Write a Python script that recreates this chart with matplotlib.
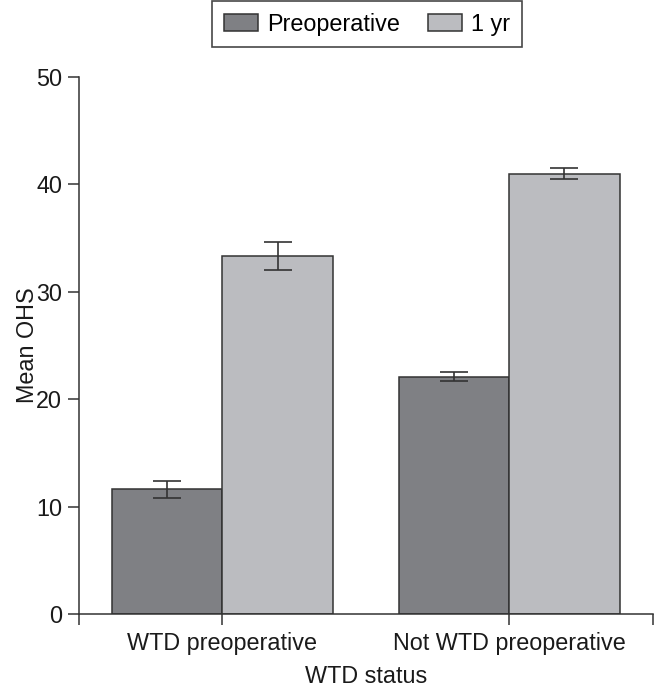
import numpy as np
import matplotlib
matplotlib.use("Agg")
import matplotlib.pyplot as plt

plt.rcParams['font.family'] = ['Liberation Sans', 'DejaVu Sans']

groups = ["WTD preoperative", "Not WTD preoperative"]
series = ["Preoperative", "1 yr"]
preop_mean = [11.6, 22.1]
preop_err = [0.8, 0.45]
yr1_mean = [33.3, 41.0]
yr1_err = [1.3, 0.5]
yticks = [0, 10, 20, 30, 40, 50]

colors = ["#7f8084", "#bbbcc0"]
edge = "#333333"
fs = 16.8

fig = plt.figure(figsize=(6.54, 6.91), dpi=100)
ax = fig.add_axes([0.1208, 0.1114, 0.877, 0.7772])

x = np.arange(len(groups))
w = 0.385
ekw = dict(ecolor=edge, elinewidth=1.2, capsize=10, capthick=1.2)
ax.bar(x - w / 2, preop_mean, w, yerr=preop_err, color=colors[0],
       edgecolor=edge, linewidth=1.1, label=series[0], error_kw=ekw)
ax.bar(x + w / 2, yr1_mean, w, yerr=yr1_err, color=colors[1],
       edgecolor=edge, linewidth=1.1, label=series[1], error_kw=ekw)

ax.set_xlim(-0.5, 1.5)
ax.set_ylim(0, 50)
ax.set_yticks(yticks)
ax.set_xticks([-0.5, 0, 1, 1.5])
ax.set_xticklabels([""] + groups + [""])
ax.tick_params(axis="both", labelsize=fs, colors="#1a1a1a",
               length=8, width=1.1, color=edge)
ax.tick_params(axis="x", pad=5)
ax.tick_params(axis="y", pad=4)

for s in ["top", "right"]:
    ax.spines[s].set_visible(False)
for s in ["left", "bottom"]:
    ax.spines[s].set_color(edge)
    ax.spines[s].set_linewidth(1.1)

ax.set_xlabel("WTD status", fontsize=fs, color="#1a1a1a", labelpad=7)
ax.set_ylabel("Mean OHS", fontsize=fs, color="#1a1a1a", labelpad=-2)

leg = ax.legend(loc="upper left", bbox_to_anchor=(212 / 654, 1 - 1 / 691),
                bbox_transform=fig.transFigure, ncol=2,
                fontsize=fs, frameon=True, fancybox=False,
                handlelength=1.45, handleheight=0.75, handletextpad=0.4,
                columnspacing=1.2, borderpad=0.5, borderaxespad=0)
leg.get_frame().set_edgecolor("#1a1a1a")
leg.get_frame().set_linewidth(1.2)

fig.savefig("out.png", dpi=100)
